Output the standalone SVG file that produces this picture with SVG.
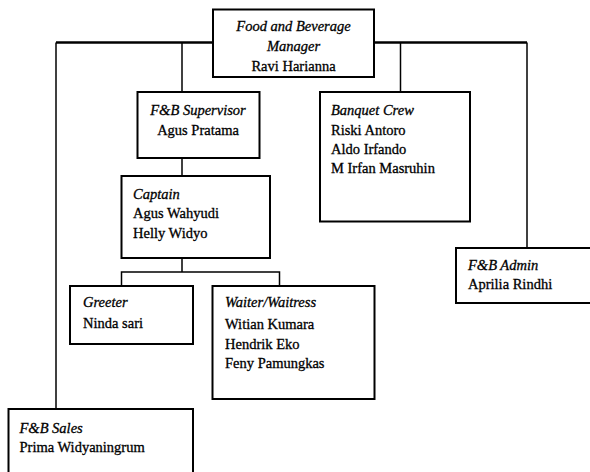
<svg xmlns="http://www.w3.org/2000/svg" width="590" height="472" viewBox="0 0 590 472">
<style>
.box{fill:#fff;stroke:#000;stroke-width:2}
.t{font-family:"Liberation Serif","Times New Roman",serif;font-size:14.5px;fill:#000;stroke:#000;stroke-width:0.3}
.i{font-style:italic}
.c{text-anchor:middle}
.ln{fill:none;stroke:#000;stroke-width:1.5}
.thick{fill:none;stroke:#000;stroke-width:2.5}
</style>
<rect width="590" height="472" fill="#fff"/>
<g id="connectors">
<path class="thick" d="M56 42.5H527"/>
<path class="ln" d="M56 42.5V409"/>
<path class="ln" d="M182 42.5V92"/>
<path class="ln" d="M400.5 42.5V92"/>
<path class="ln" d="M527 42.5V248"/>
<path class="ln" d="M182 158V176"/>
<path class="ln" d="M182 258V272H121.5V286M182 272H279.5V286"/>
</g>
<g id="manager">
<rect class="box" x="213" y="9.5" width="161" height="67.5"/>
<text class="t i c" x="293.5" y="31">Food and Beverage</text>
<text class="t i c" x="293.5" y="51">Manager</text>
<text class="t c" x="293.5" y="71">Ravi Harianna</text>
</g>
<g id="supervisor">
<rect class="box" x="137.5" y="92" width="122" height="66"/>
<text class="t i c" x="198" y="115">F&amp;B Supervisor</text>
<text class="t c" x="198" y="135">Agus Pratama</text>
</g>
<g id="banquet">
<rect class="box" x="320" y="92" width="150" height="129.5"/>
<text class="t i" x="331" y="115">Banquet Crew</text>
<text class="t" x="331" y="135">Riski Antoro</text>
<text class="t" x="331" y="154">Aldo Irfando</text>
<text class="t" x="331" y="173">M Irfan Masruhin</text>
</g>
<g id="captain">
<rect class="box" x="121.5" y="176" width="148.5" height="82"/>
<text class="t i" x="133" y="199">Captain</text>
<text class="t" x="133" y="218">Agus Wahyudi</text>
<text class="t" x="133" y="238">Helly Widyo</text>
</g>
<g id="admin">
<rect class="box" x="456" y="248" width="140" height="55"/>
<text class="t i" x="468" y="270">F&amp;B Admin</text>
<text class="t" x="468" y="289">Aprilia Rindhi</text>
</g>
<g id="greeter">
<rect class="box" x="70" y="286" width="123" height="58"/>
<text class="t i" x="83" y="307">Greeter</text>
<text class="t" x="83" y="328">Ninda sari</text>
</g>
<g id="waiter">
<rect class="box" x="212.5" y="286" width="162" height="113"/>
<text class="t i" x="225" y="307">Waiter/Waitress</text>
<text class="t" x="225" y="329">Witian Kumara</text>
<text class="t" x="225" y="349">Hendrik Eko</text>
<text class="t" x="225" y="368">Feny Pamungkas</text>
</g>
<g id="sales">
<rect class="box" x="8.5" y="409" width="184.5" height="80"/>
<text class="t i" x="19.5" y="433">F&amp;B Sales</text>
<text class="t" x="19.5" y="452">Prima Widyaningrum</text>
</g>
</svg>
